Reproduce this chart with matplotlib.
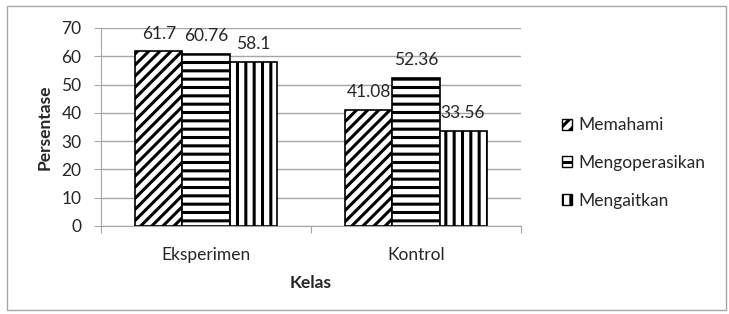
import matplotlib
matplotlib.use("Agg")
import matplotlib.pyplot as plt
from matplotlib.patches import Rectangle, Patch
import numpy as np

categories = ["Eksperimen", "Kontrol"]
series_names = ["Memahami", "Mengoperasikan", "Mengaitkan"]
memahami = [61.7, 41.08]
mengoperasikan = [60.76, 52.36]
mengaitkan = [58.1, 33.56]
value_labels = [["61.7", "41.08"], ["60.76", "52.36"], ["58.1", "33.56"]]
y_ticks = [0, 10, 20, 30, 40, 50, 60, 70]

plt.rcParams['font.family'] = ['Lato', 'DejaVu Sans']
plt.rcParams['hatch.linewidth'] = 2.2
plt.rcParams['hatch.color'] = 'black'

FS = 12.5
TXT = '#262626'

fig = plt.figure(figsize=(7.29, 3.14), dpi=100)
fig.patches.append(Rectangle((7/729, 1 - 310/314), 719/729, 304/314, transform=fig.transFigure,
                             fill=False, edgecolor='#a6a6a6', linewidth=1.0))
ax = fig.add_axes([101/729, 1 - 226/314, 420/729, 198/314])

series = [memahami, mengoperasikan, mengaitkan]
hatches = ['///', '--', '||']
w = 0.224
x = np.arange(len(categories))
for i, (vals, h) in enumerate(zip(series, hatches)):
    pos = x + (i - 1) * w
    ax.bar(pos, vals, width=w, facecolor='white', edgecolor='black', hatch=h,
           linewidth=1.2, zorder=3, label=series_names[i])
    for xp, v, lab in zip(pos, vals, value_labels[i]):
        ax.annotate(lab, (xp, v), xytext=(0, 7), textcoords='offset points',
                    ha='center', va='bottom', fontsize=FS, color=TXT, zorder=4)

ax.set_xlim(-0.5, 1.5)
ax.set_ylim(0, 70)
ax.set_yticks(y_ticks)
ax.set_yticklabels([str(t) for t in y_ticks], fontsize=FS, color=TXT)
ax.set_xticks([-0.5, 0.5, 1.5], minor=False)
ax.set_xticklabels([])
ax.set_xticks(x, minor=True)
ax.set_xticklabels(categories, minor=True, fontsize=FS, color=TXT)
ax.tick_params(axis='x', which='minor', length=0, pad=15)
ax.tick_params(axis='x', which='major', length=5, color='#a6a6a6', direction='out')
ax.tick_params(axis='y', length=5, color='#a6a6a6', direction='out', pad=9)
ax.grid(axis='y', color='#a6a6a6', linewidth=1.0, zorder=0)
for s in ['top', 'right']:
    ax.spines[s].set_visible(False)
ax.spines['left'].set_color('#a6a6a6')
ax.spines['bottom'].set_color('#a6a6a6')

fig.text(45/729, 1 - 127/314, 'Persentase', rotation=90, ha='center', va='center',
         fontsize=FS, fontweight='bold', color=TXT)
fig.text(311/729, 1 - 283/314, 'Kelas', ha='center', va='center',
         fontsize=FS, fontweight='bold', color=TXT)

handles = [Patch(facecolor='white', edgecolor='black', hatch=h, linewidth=1.0) for h in hatches]
leg = fig.legend(handles, series_names, loc='center left', bbox_to_anchor=(546/729, 1 - 163/314),
                 frameon=False, fontsize=FS, handlelength=0.6, handleheight=0.6,
                 handletextpad=0.35, labelspacing=1.25, labelcolor=TXT)

fig.savefig('out.png', dpi=100)
